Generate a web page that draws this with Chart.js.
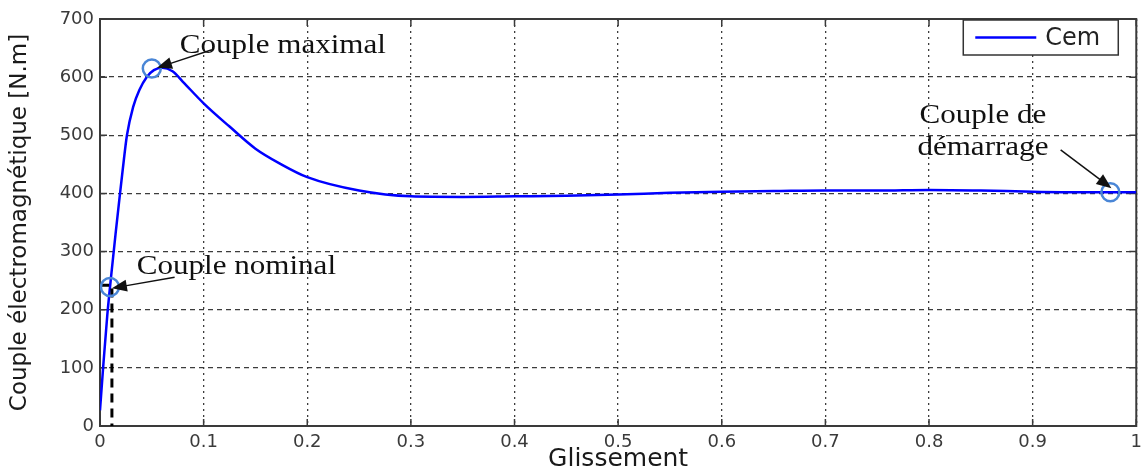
<!DOCTYPE html>
<html>
<head>
<meta charset="utf-8">
<script src="https://cdn.jsdelivr.net/npm/chart.js@4.4.0/dist/chart.umd.min.js"></script>
<style>
  body { margin: 0; background: #fff; }
  #wrap { width: 1148px; height: 470px; }
</style>
</head>
<body>
<div id="wrap"><canvas id="myChart" width="1148" height="470"></canvas></div>
<script>
// Glissement (slip) and Cem
var glissement = [0, 0.003, 0.007, 0.011, 0.015, 0.019, 0.022, 0.026, 0.032, 0.038, 0.045, 0.052, 0.06, 0.07, 0.08, 0.1, 0.125, 0.15, 0.175, 0.2, 0.25, 0.3, 0.35, 0.4, 0.45, 0.5, 0.55, 0.6, 0.65, 0.7, 0.75, 0.8, 0.85, 0.9, 0.95, 1.0];
var cem = [27, 100, 190, 262, 330, 395, 442, 500, 549, 578, 600, 612, 616, 610, 592, 555, 515, 477, 450, 428, 405, 395, 394, 395, 396, 398, 401, 403, 404, 405, 405, 406, 405, 403, 402, 402];

// the three marked points (nominal, maximal, démarrage)
var pointsX = [0.0096, 0.05, 0.975];
var pointsY = [239, 615, 402];

// dashed marker of the nominal point
var nominalX = [0, 0.0115, 0.0115];
var nominalY = [242, 242, 0];

var xTickValues = [0, 0.1, 0.2, 0.3, 0.4, 0.5, 0.6, 0.7, 0.8, 0.9, 1];
var xTickLabels = ["0", "0.1", "0.2", "0.3", "0.4", "0.5", "0.6", "0.7", "0.8", "0.9", "1"];
var yTickValues = [0, 100, 200, 300, 400, 500, 600, 700];
var yTickLabels = ["0", "100", "200", "300", "400", "500", "600", "700"];

// text + arrows, in data coordinates
var notes = [
  { lines: ["Couple maximal"], x: 0.077, y: [641], align: "left", from: [0.108, 647], to: [0.055, 616] },
  { lines: ["Couple nominal"], x: 0.0355, y: [261], align: "left", from: [0.072, 256], to: [0.0115, 237] },
  { lines: ["Couple de", "démarrage"], x: 0.852, y: [521, 466], align: "center", from: [0.927, 475], to: [0.976, 409] }
];

function drawArrow(ctx, x1, y1, x2, y2) {
  var ang = Math.atan2(y2 - y1, x2 - x1), L = 15, W = 6;
  ctx.beginPath();
  ctx.moveTo(x1, y1);
  ctx.lineTo(x2 - L * 0.8 * Math.cos(ang), y2 - L * 0.8 * Math.sin(ang));
  ctx.stroke();
  ctx.beginPath();
  ctx.moveTo(x2, y2);
  ctx.lineTo(x2 - L * Math.cos(ang) + W * Math.sin(ang), y2 - L * Math.sin(ang) - W * Math.cos(ang));
  ctx.lineTo(x2 - L * Math.cos(ang) - W * Math.sin(ang), y2 - L * Math.sin(ang) + W * Math.cos(ang));
  ctx.closePath();
  ctx.fill();
}

var decor = {
  id: "decor",
  beforeDatasetsDraw: function(chart) {
    var ctx = chart.ctx, a = chart.chartArea, xs = chart.scales.x, ys = chart.scales.y;
    ctx.save();
    ctx.strokeStyle = "#3a3a3a";
    ctx.lineWidth = 2;
    ctx.strokeRect(a.left, a.top, a.right - a.left, a.bottom - a.top);
    ctx.lineWidth = 1.5;
    ctx.beginPath();
    xs.ticks.forEach(function(t) {
      var px = xs.getPixelForValue(t.value);
      ctx.moveTo(px, a.bottom); ctx.lineTo(px, a.bottom - 7);
      ctx.moveTo(px, a.top); ctx.lineTo(px, a.top + 7);
    });
    ys.ticks.forEach(function(t) {
      var py = ys.getPixelForValue(t.value);
      ctx.moveTo(a.left, py); ctx.lineTo(a.left + 7, py);
      ctx.moveTo(a.right, py); ctx.lineTo(a.right - 7, py);
    });
    ctx.stroke();
    ctx.restore();
  },
  afterDatasetsDraw: function(chart) {
    var ctx = chart.ctx, a = chart.chartArea, xs = chart.scales.x, ys = chart.scales.y;
    ctx.save();
    // annotations
    ctx.fillStyle = "#111";
    ctx.strokeStyle = "#111";
    ctx.lineWidth = 1.5;
    ctx.font = "27px 'Liberation Serif', 'Times New Roman', serif";
    ctx.textBaseline = "alphabetic";
    notes.forEach(function(n) {
      ctx.textAlign = n.align;
      n.lines.forEach(function(txt, i) {
        ctx.save();
        ctx.translate(xs.getPixelForValue(n.x), ys.getPixelForValue(n.y[i]));
        ctx.scale(1.15, 1);
        ctx.fillText(txt, 0, 0);
        ctx.restore();
      });
      drawArrow(ctx, xs.getPixelForValue(n.from[0]), ys.getPixelForValue(n.from[1]),
                xs.getPixelForValue(n.to[0]), ys.getPixelForValue(n.to[1]));
    });
    // legend box in the upper right corner
    var ds = chart.data.datasets[0];
    var bw = 155, bh = 35, bx = a.right - 18 - bw, by = a.top + 1;
    ctx.fillStyle = "#fff";
    ctx.fillRect(bx, by, bw, bh);
    ctx.strokeStyle = "#333";
    ctx.lineWidth = 1.5;
    ctx.strokeRect(bx, by, bw, bh);
    ctx.strokeStyle = ds.borderColor;
    ctx.lineWidth = 2.5;
    ctx.beginPath();
    ctx.moveTo(bx + 12, by + bh / 2);
    ctx.lineTo(bx + 73, by + bh / 2);
    ctx.stroke();
    ctx.fillStyle = "#222";
    ctx.font = "24px 'DejaVu Sans', sans-serif";
    ctx.textAlign = "left";
    ctx.textBaseline = "middle";
    ctx.fillText(ds.label, bx + 82, by + bh / 2 + 1);
    ctx.restore();
  }
};

var ctx = document.getElementById("myChart").getContext("2d");
var myChart = new Chart(ctx, {
  type: "line",
  data: {
    datasets: [
      {
        label: "Cem",
        data: glissement.map(function(g, i) { return { x: g, y: cem[i] }; }),
        borderColor: "#0000ff",
        borderWidth: 2.5,
        pointRadius: 0,
        cubicInterpolationMode: "monotone",
        order: 2
      },
      {
        label: "nominal",
        data: nominalX.map(function(g, i) { return { x: g, y: nominalY[i] }; }),
        borderColor: "#000",
        borderWidth: 3,
        borderDash: [9, 6],
        pointRadius: 0,
        order: 1
      },
      {
        label: "points",
        data: pointsX.map(function(g, i) { return { x: g, y: pointsY[i] }; }),
        showLine: false,
        pointRadius: 9,
        pointBorderWidth: 2.5,
        pointBorderColor: "#4a86d6",
        pointBackgroundColor: "rgba(0,0,0,0)",
        order: 0
      }
    ]
  },
  options: {
    responsive: false,
    animation: false,
    devicePixelRatio: 1,
    layout: { padding: { top: 19, right: 5, left: 0, bottom: 0 } },
    plugins: {
      legend: { display: false },
      tooltip: { enabled: false }
    },
    scales: {
      x: {
        type: "linear",
        min: 0,
        max: 1,
        afterFit: function(s) { s.height = 44; },
        afterBuildTicks: function(s) { s.ticks = xTickValues.map(function(v) { return { value: v }; }); },
        ticks: {
          color: "#3a3a3a",
          padding: 6,
          maxRotation: 0,
          font: { family: "'DejaVu Sans', sans-serif", size: 18 },
          callback: function(v) { return xTickLabels[xTickValues.indexOf(v)]; }
        },
        grid: { color: "#3c3c3c", lineWidth: 1.3, drawTicks: false },
        border: { display: false, dash: [2, 4] },
        title: {
          display: true,
          text: "Glissement",
          color: "#1a1a1a",
          padding: { top: 0, bottom: -2 },
          font: { family: "'DejaVu Sans', sans-serif", size: 25, lineHeight: 1 }
        }
      },
      y: {
        min: 0,
        max: 700,
        afterFit: function(s) { s.width = 100; },
        afterBuildTicks: function(s) { s.ticks = yTickValues.map(function(v) { return { value: v }; }); },
        ticks: {
          color: "#3a3a3a",
          padding: 6,
          font: { family: "'DejaVu Sans', sans-serif", size: 18 },
          callback: function(v) { return yTickLabels[yTickValues.indexOf(v)]; }
        },
        grid: { color: "#3c3c3c", lineWidth: 1.3, drawTicks: false },
        border: { display: false, dash: [5, 4] },
        title: {
          display: true,
          text: "Couple électromagnétique [N.m]",
          color: "#1a1a1a",
          padding: { top: 6, bottom: 0 },
          font: { family: "'DejaVu Sans', sans-serif", size: 23, lineHeight: 1.2 }
        }
      }
    }
  },
  plugins: [decor]
});
</script>
</body>
</html>
